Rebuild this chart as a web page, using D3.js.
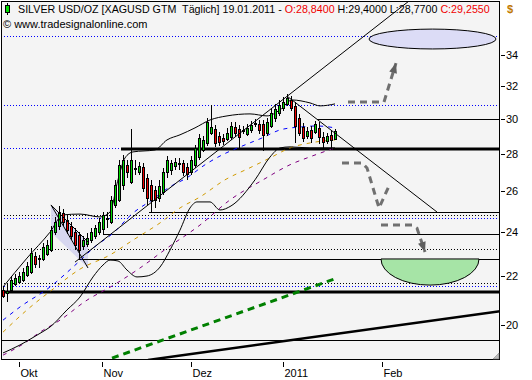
<!DOCTYPE html>
<html><head><meta charset="utf-8">
<script src="https://cdn.jsdelivr.net/npm/d3@7"></script>
<style>body{margin:0;background:#fff}svg{display:block}text{font-family:"Liberation Sans",Arial,sans-serif;white-space:pre;}</style>
</head><body><svg id="c" width="532" height="380"></svg>
<script>
// ---- candle data (XAGUSD daily) ----
const open=[21.42,21.29,21.42,21.68,21.76,21.85,22.06,22.19,22.90,22.77,
22.77,22.99,23.17,24.00,24.29,24.92,24.58,24.29,24.00,23.87,
23.35,23.45,23.63,23.82,24.00,24.15,24.68,24.48,25.32,25.57,
26.34,27.40,26.50,27.24,27.03,27.29,26.71,26.34,26.08,25.67,
25.98,27.03,27.13,27.34,27.45,27.50,27.29,27.03,27.40,27.83,
28.21,28.60,29.17,29.40,29.00,28.88,28.83,28.94,29.51,29.40,
29.28,29.11,29.34,29.69,29.69,29.69,29.17,29.57,30.04,30.34,
30.64,30.88,31.12,30.76,30.04,29.51,29.00,29.34,29.23,29.46,
28.94,28.71,29.06,28.84];
const close=[21.17,21.38,21.85,21.94,22.02,22.19,22.46,23.04,22.54,22.81,
23.31,23.40,24.10,24.48,24.97,24.48,24.10,23.82,23.40,23.17,
23.63,23.72,24.00,24.19,24.48,24.83,24.63,25.57,26.34,27.40,
27.66,27.03,27.66,27.19,27.34,26.18,25.67,25.57,25.57,26.29,
27.03,27.66,27.50,27.56,27.50,27.03,26.92,27.66,28.32,28.88,
28.77,29.80,29.51,28.60,28.66,28.71,29.17,29.57,29.17,28.94,
29.34,29.46,29.63,29.75,29.34,29.06,29.80,30.34,30.58,30.82,
31.00,31.25,30.64,29.57,29.17,28.88,29.28,28.88,29.69,28.94,
28.66,29.00,28.77,29.255];
const high=[21.59,21.68,22.02,22.11,22.19,22.37,22.63,23.26,23.08,22.95,
23.49,23.63,24.29,24.73,25.27,25.12,24.83,24.48,24.19,24.00,
23.82,23.96,24.19,24.34,24.68,24.97,24.97,25.77,26.60,27.66,
27.93,27.66,29.40,27.66,27.56,27.50,26.92,26.60,26.29,26.60,
27.24,27.88,27.66,27.77,27.77,27.66,27.50,27.88,28.49,29.11,
29.00,30.04,30.82,29.63,29.23,29.11,29.46,29.80,29.80,29.63,
29.57,29.69,29.86,29.98,29.92,29.92,30.04,30.58,30.88,31.12,
31.31,31.49,31.37,31.00,30.28,29.75,29.51,29.57,29.86,29.80,
29.23,29.17,29.28,29.40];
const low=[21.08,20.92,21.33,21.59,21.68,21.76,21.98,22.11,22.37,22.37,
22.68,22.90,23.08,23.87,24.10,24.29,23.91,23.63,23.17,22.77,
23.17,23.31,23.49,23.68,23.87,23.91,24.19,24.39,25.17,25.47,
26.08,26.71,26.39,26.87,26.87,25.98,25.32,24.97,25.17,25.47,
25.83,26.71,26.87,27.13,27.13,26.81,26.60,26.87,27.24,27.66,
28.10,28.43,29.06,28.38,28.43,28.49,28.71,28.77,28.94,28.32,
29.11,29.00,29.17,29.51,29.11,28.15,29.00,29.46,29.80,30.16,
30.46,30.76,30.46,28.60,29.00,28.66,28.83,28.60,29.11,28.54,
28.32,28.54,28.21,28.77];

// ---- indicator lines (bar index, price) ----
const blueIdx=[0,4.25,11.75,17.5,23.5,27.25,32.5,37.25,41.75,46,50.5,54.75,60.5,64.75,69.25,74.25,78.5,83];
const blueVal=[20.19,20.72,21.55,22.41,23.40,23.91,24.92,25.57,26.24,26.71,27.40,27.93,28.49,28.88,29.34,29.51,29.57,29.46];
const orangeIdx=[0,6,12.5,19.25,26.75,32.5,39.25,44.25,49.25,55.5,61.75,66.75,71.75,76.75,83];
const orangeVal=[19.72,20.60,21.46,22.32,22.95,23.63,24.44,25.17,25.72,26.60,27.24,27.77,28.32,28.60,28.77];
const purpleIdx=[0,5.5,9.25,14.25,21,27.25,34.25,41,49.25,56.75,65,71.75,76.75,83];
const purpleVal=[18.85,19.31,19.72,20.19,21.00,21.59,22.37,23.26,24.34,25.57,26.60,27.40,27.83,28.32];
const lowerIdx=[0,4.25,7.25,9.75,11.75,16,19.25,22.5,25,26.75,28.75,31,33.5,36,39.25,41.75,44.25,46.75,48.5,51.75,54.25,57,63,66.75,69.25,71.75,76.75,83];
const lowerVal=[18.93,19.23,19.49,19.72,19.92,20.60,21.13,21.98,22.50,22.72,22.68,22.28,21.98,22.02,22.41,23.17,24.10,25.17,25.47,25.47,25.07,25.27,26.60,27.82,28.32,28.38,28.32,28.32];
const upperIdx=[0,6,11.75,15,19.25,24.25,26.75,28.75,30.5,32.5,38,41,44.25,48,51.75,56,61.75,66,69.25,72.25,76.75,79.25,83];
const upperVal=[21.55,22.81,24.00,24.83,24.87,24.73,24.97,26.60,27.77,28.10,28.21,28.77,29.06,29.46,29.92,30.16,30.28,30.16,30.52,31.12,30.94,30.76,30.88];

// ---- horizontal levels ----
const dottedBlue=[35.29,30.82,28.30,24.68,21.59];
const dottedBlack=[24.83,23.22,21.72];
const solidLevels=[29.98,24.97,23.92,22.77,19.42];
const solidFrom=[78.5,36.5,25,19,-0.5];
const thickLevels=[28.27,21.34];
const thickFrom=[29.5,-0.5];

// ---- drawn objects ----
const upLineIdx=[18,106.75], upLineVal=[22.63,39.04];
const downLineIdx=[71.25,108.5], downLineVal=[31.31,24.97];
const greenDashIdx=[27.25,83.5], greenDashVal=[18.74,21.93];
const thickRiseIdx=[36.25,124.25], thickRiseVal=[18.67,20.55];
const flagPolyIdx=[12,21.25,21.25,12], flagPolyVal=[25.32,23.54,22.37,24.00];
const flagDiagIdx=[12,21.25], flagDiagVal=[25.32,22.37];
const ellipseIdx=[91.5,123.25], ellipseVal=[35.77,34.40];
const bowlIdx=[94.5,119], bowlVal=[22.77,21.63];
const arrowUpIdx=[86.25,95.25,98.25], arrowUpVal=[31.00,31.00,33.46];
const arrowVIdx=[84.75,89.75,91,94,96.5], arrowVVal=[27.50,27.50,27.23,25.17,26.28];
const arrowDnIdx=[94.5,102.25,103.5,105.5], arrowDnVal=[24.34,24.34,24.19,23.08];

// ---- axes / texts ----
const priceTicks=[20,22,24,26,28,30,32,34];
const timeTickIdx=[4,24.75,47,70,94.75];
const timeTickLabels=["Okt","Nov","Dez","2011","Feb"];
const headerParts=["SILVER USD/OZ [XAGUSD GTM  Täglich] 19.01.2011 - ","O:28,8400"," H:29,4000 L:28,7700 ","C:29,2550"];
const headerColors=["#000","#f00000","#000","#f00000"];

const PL=1,PT=1,PR=500,PB=360;
const svg=d3.select("#c");
const x=d3.scaleLinear().domain([-0.5,124.25]).range([PL,PR]);
const y=d3.scaleLog().domain([18.67,37.8]).range([PB,PT]);
const cy=v=>Math.round(y(v))+0.5;

svg.append("rect").attr("width",532).attr("height",380).attr("fill","#fff");
svg.append("rect").attr("x",PL).attr("y",PT).attr("width",PR-PL).attr("height",PB-PT).attr("fill","#f4f4f4");
svg.append("defs").append("clipPath").attr("id","clip").append("rect")
  .attr("x",PL).attr("y",PT).attr("width",PR-PL).attr("height",PB-PT);
const g=svg.append("g").attr("clip-path","url(#clip)");

dottedBlue.forEach(p=>g.append("line").attr("x1",PL).attr("x2",PR).attr("y1",cy(p)).attr("y2",cy(p))
  .attr("stroke","#0000ff").attr("stroke-dasharray","1,2"));
dottedBlack.forEach(p=>g.append("line").attr("x1",PL).attr("x2",PR).attr("y1",cy(p)).attr("y2",cy(p))
  .attr("stroke","#000").attr("stroke-dasharray","1,2"));

g.append("polygon").attr("points",flagPolyIdx.map((d,i)=>[x(d),y(flagPolyVal[i])].join(",")).join(" "))
  .attr("fill","#d4d4f0").attr("opacity",0.9);

solidLevels.forEach((p,i)=>g.append("line").attr("x1",x(solidFrom[i])).attr("x2",PR).attr("y1",cy(p)).attr("y2",cy(p))
  .attr("stroke","#000").attr("stroke-width",1));
thickLevels.forEach((p,i)=>g.append("line").attr("x1",x(thickFrom[i])).attr("x2",PR).attr("y1",Math.round(y(p))).attr("y2",Math.round(y(p)))
  .attr("stroke","#000").attr("stroke-width",3));

const curve=(ix,vals,color,dash,w)=>g.append("path")
  .attr("d",d3.line().x(d=>x(d)).y((d,i)=>y(vals[i])).curve(d3.curveMonotoneX)(ix))
  .attr("fill","none").attr("stroke",color).attr("stroke-width",w||1).attr("stroke-dasharray",dash||null);
curve(purpleIdx,purpleVal,"#800080","4,5");
curve(orangeIdx,orangeVal,"#d09a00","4,5");
curve(blueIdx,blueVal,"#0000ff","4,5");
curve(lowerIdx,lowerVal,"#000");
curve(upperIdx,upperVal,"#000");

const idx=d3.range(open.length);
const cg=g.append("g").attr("shape-rendering","crispEdges");
idx.forEach(i=>{
  const cx=Math.round(x(i));
  cg.append("line").attr("x1",cx+0.5).attr("x2",cx+0.5).attr("y1",y(high[i])).attr("y2",y(low[i])).attr("stroke","#000");
  const t=Math.round(y(Math.max(open[i],close[i]))), b=Math.round(y(Math.min(open[i],close[i])));
  if(b-t<1){cg.append("line").attr("x1",cx-1).attr("x2",cx+2).attr("y1",t+0.5).attr("y2",t+0.5).attr("stroke","#000");}
  else cg.append("rect").attr("x",cx-0.5).attr("y",t+0.5).attr("width",2).attr("height",b-t)
    .attr("fill",close[i]>=open[i]?"#00d800":"#f00000").attr("stroke","#000");
});

const seg=(ix,vals,color,w,dash)=>g.append("line").attr("x1",x(ix[0])).attr("y1",y(vals[0])).attr("x2",x(ix[1])).attr("y2",y(vals[1]))
  .attr("stroke",color).attr("stroke-width",w).attr("stroke-dasharray",dash||null);
seg(upLineIdx,upLineVal,"#000",1);
seg(downLineIdx,downLineVal,"#000",1);
seg(flagDiagIdx,flagDiagVal,"#000",1);
seg([flagPolyIdx[0],flagPolyIdx[1]],[flagPolyVal[0],flagPolyVal[1]],"#000",1);
seg(greenDashIdx,greenDashVal,"#008000",3,"7,5");
seg(thickRiseIdx,thickRiseVal,"#000",2.5);

const ex0=x(ellipseIdx[0]),ex1=x(ellipseIdx[1]),ey0=y(ellipseVal[0]),ey1=y(ellipseVal[1]);
g.append("ellipse").attr("cx",(ex0+ex1)/2).attr("cy",(ey0+ey1)/2).attr("rx",(ex1-ex0)/2).attr("ry",(ey1-ey0)/2)
  .attr("fill","#dcdcf6").attr("stroke","#000");
const bx0=x(bowlIdx[0]),bx1=x(bowlIdx[1]),by0=y(bowlVal[0]),by1=y(bowlVal[1]);
g.append("path").attr("d",`M${bx0},${by0} A${(bx1-bx0)/2},${by1-by0} 0 0 0 ${bx1},${by0} Z`)
  .attr("fill","#a6e4a6").attr("stroke","#000");

const arrow=(ix,vals,head)=>{
  const pts=ix.map((d,i)=>[x(d),y(vals[i])]);
  g.append("path").attr("d",d3.line()(pts)).attr("fill","none").attr("stroke","#707070")
   .attr("stroke-width",3).attr("stroke-dasharray","7,5");
  if(head){
    const [x1,y1]=pts[pts.length-2],[x2,y2]=pts[pts.length-1];
    const a=Math.atan2(y2-y1,x2-x1),L=10,W=4;
    const bx=x2-L*Math.cos(a),by=y2-L*Math.sin(a);
    g.append("polygon").attr("points",[[x2,y2],[bx+W*Math.sin(a),by-W*Math.cos(a)],[bx-W*Math.sin(a),by+W*Math.cos(a)]].map(p=>p.join(",")).join(" "))
     .attr("fill","#606060");
  }
};
arrow(arrowUpIdx,arrowUpVal,true);
arrow(arrowVIdx,arrowVVal,false);
arrow(arrowDnIdx,arrowDnVal,true);

svg.append("rect").attr("x",PL+0.5).attr("y",PT+0.5).attr("width",PR-PL-1).attr("height",PB-PT-1)
  .attr("fill","none").attr("stroke","#000");
svg.append("path").attr("d","M493,359 L499,353 L499,359 Z").attr("fill","#bbb").attr("stroke","#777").attr("stroke-width",0.5);

// header
svg.append("line").attr("x1",7.5).attr("x2",7.5).attr("y1",3).attr("y2",15).attr("stroke","#000");
svg.append("rect").attr("x",5.5).attr("y",5.5).attr("width",4).attr("height",7).attr("fill","#00e000").attr("stroke","#000");
let fs=11;
const hg=svg.append("g");
const drawHeader=()=>{
  hg.selectAll("*").remove();
  let hx=18;
  headerParts.forEach((t,i)=>{
    const el=hg.append("text").attr("x",hx).attr("y",13).attr("font-size",fs+"px").attr("fill",headerColors[i]).text(t);
    hx+=el.node().getComputedTextLength();
  });
  return hx-18;
};
const wTot=drawHeader();
if(wTot>472){fs=11*472/wTot;drawHeader();}
svg.append("text").attr("x",3).attr("y",28).attr("font-size","11px").text("© www.tradesignalonline.com");

svg.append("text").attr("x",507).attr("y",13).attr("font-size","11px").attr("fill","#c07800").attr("font-weight","bold").text("$");
priceTicks.forEach(v=>{
  svg.append("line").attr("x1",501).attr("x2",505).attr("y1",cy(v)).attr("y2",cy(v)).attr("stroke","#000");
  svg.append("text").attr("x",506).attr("y",y(v)+4).attr("font-size","11px").text(v);
});
timeTickIdx.forEach((d,i)=>{
  const tx=Math.round(x(d))+0.5;
  svg.append("line").attr("x1",tx).attr("x2",tx).attr("y1",362).attr("y2",367).attr("stroke","#000");
  svg.append("text").attr("x",tx+1).attr("y",377).attr("font-size","11px").text(timeTickLabels[i]);
});
</script></body></html>
